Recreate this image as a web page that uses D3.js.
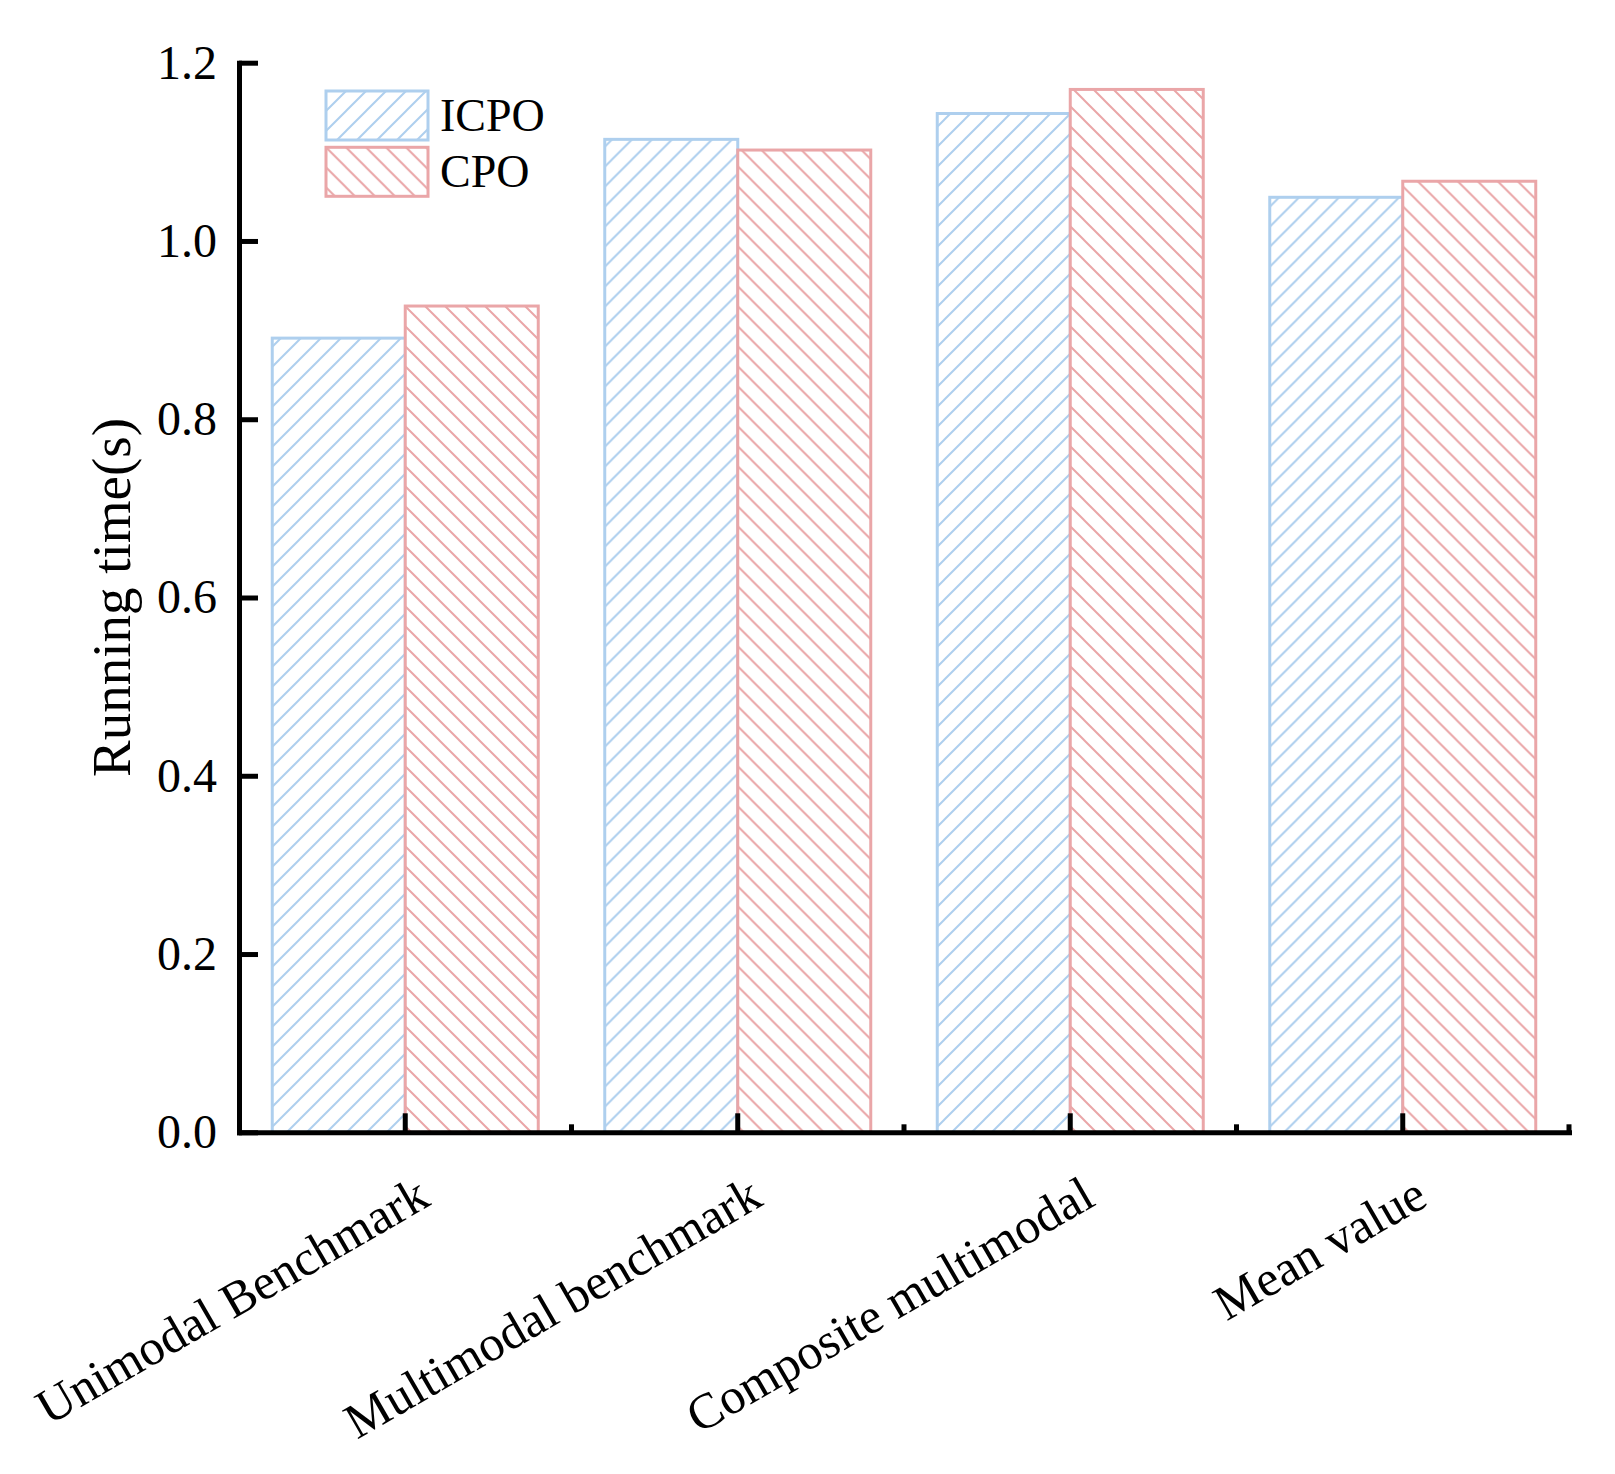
<!DOCTYPE html>
<html>
<head>
<meta charset="utf-8">
<script src="https://cdn.jsdelivr.net/npm/d3@7"></script>
<style>
  body { margin: 0; background: #fff; }
  svg { display: block; font-family: "Liberation Serif", "Times New Roman", serif; }
  .axis path, .axis line { stroke: #000; stroke-width: 5; }
  .axis path { stroke-linecap: square; }
  .axis text { fill: #000; font-size: 48px; font-family: "Liberation Serif", "Times New Roman", serif; }
</style>
</head>
<body>
<svg id="chart" width="1615" height="1474"></svg>
<script>
const categories = ['Unimodal Benchmark', 'Multimodal benchmark', 'Composite multimodal', 'Mean value'];
const seriesNames = ['ICPO', 'CPO'];
const icpoTime = [0.891, 1.114, 1.143, 1.049];
const cpoTime = [0.927, 1.102, 1.170, 1.067];
const yTicks = [0, 0.2, 0.4, 0.6, 0.8, 1.0, 1.2];

const seriesColor = { ICPO: '#aecfee', CPO: '#eaa6a8' };
const seriesHatch = { ICPO: 'M0,20 L20,0 M-5,5 L5,-5 M15,25 L25,15', CPO: 'M0,0 L20,20 M-5,15 L5,25 M15,-5 L25,5' };

const rows = categories.map((c, i) => ({ cat: c, ICPO: icpoTime[i], CPO: cpoTime[i] }));

const svg = d3.select('#chart');
const plotLeft = 239, plotRight = 1569, plotTop = 62.7, plotBottom = 1132.3;

const x = d3.scaleBand().domain(categories).range([plotLeft, plotRight]).padding(0);
const xSub = d3.scaleBand().domain(seriesNames).range([0, x.bandwidth()]).paddingInner(0).paddingOuter(0.25);
const y = d3.scaleLinear().domain([0, 1.2]).range([plotBottom, plotTop]);

// hatch patterns
const defs = svg.append('defs');
seriesNames.forEach(s => {
  const p = defs.append('pattern')
    .attr('id', 'hatch-' + s)
    .attr('patternUnits', 'userSpaceOnUse')
    .attr('width', 20).attr('height', 20);
  p.append('rect').attr('width', 20).attr('height', 20).attr('fill', '#fff');
  p.append('path').attr('d', seriesHatch[s])
    .attr('stroke', seriesColor[s]).attr('stroke-width', 2).attr('fill', 'none');
});

// bars
const groups = svg.append('g').selectAll('g')
  .data(rows)
  .enter().append('g')
  .attr('transform', d => `translate(${x(d.cat)},0)`);

groups.selectAll('rect')
  .data(d => seriesNames.map(s => ({ s, v: d[s] })))
  .enter().append('rect')
  .attr('x', d => xSub(d.s))
  .attr('y', d => y(d.v))
  .attr('width', xSub.bandwidth())
  .attr('height', d => y(0) - y(d.v))
  .attr('fill', d => `url(#hatch-${d.s})`)
  .attr('stroke', d => seriesColor[d.s])
  .attr('stroke-width', 3);

// y axis
svg.append('g')
  .attr('class', 'axis')
  .attr('transform', `translate(${plotLeft},0)`)
  .call(d3.axisLeft(y).tickValues(yTicks).tickFormat(d3.format('.1f'))
    .tickSizeInner(-19).tickSizeOuter(0).tickPadding(22));

// x axis
const xAxis = svg.append('g')
  .attr('class', 'axis')
  .attr('transform', `translate(0,${plotBottom})`)
  .call(d3.axisBottom(x).tickSizeInner(-19).tickSizeOuter(0));

xAxis.selectAll('.tick text')
  .attr('y', 0).attr('dy', 0)
  .attr('text-anchor', 'end')
  .attr('transform', 'translate(27,72) rotate(-30)')
  .style('font-size', '50px');

// minor ticks at group boundaries
xAxis.selectAll('.minor')
  .data(categories)
  .enter().append('line')
  .attr('class', 'minor')
  .attr('x1', d => x(d) + x.bandwidth())
  .attr('x2', d => x(d) + x.bandwidth())
  .attr('y1', 0).attr('y2', -8);

// axis title
svg.append('text')
  .attr('transform', `translate(130,${(plotTop + plotBottom) / 2}) rotate(-90)`)
  .attr('text-anchor', 'middle')
  .style('font-size', '55px')
  .text('Running time(s)');

// legend
const legend = svg.append('g').attr('transform', 'translate(326,91)');
seriesNames.forEach((s, i) => {
  const g = legend.append('g').attr('transform', `translate(0,${i * 56.3})`);
  g.append('rect')
    .attr('width', 102).attr('height', 49)
    .attr('fill', `url(#hatch-${s})`)
    .attr('stroke', seriesColor[s]).attr('stroke-width', 3);
  g.append('text')
    .attr('x', 114).attr('y', 40)
    .style('font-size', '46px')
    .text(s);
});
</script>
</body>
</html>
